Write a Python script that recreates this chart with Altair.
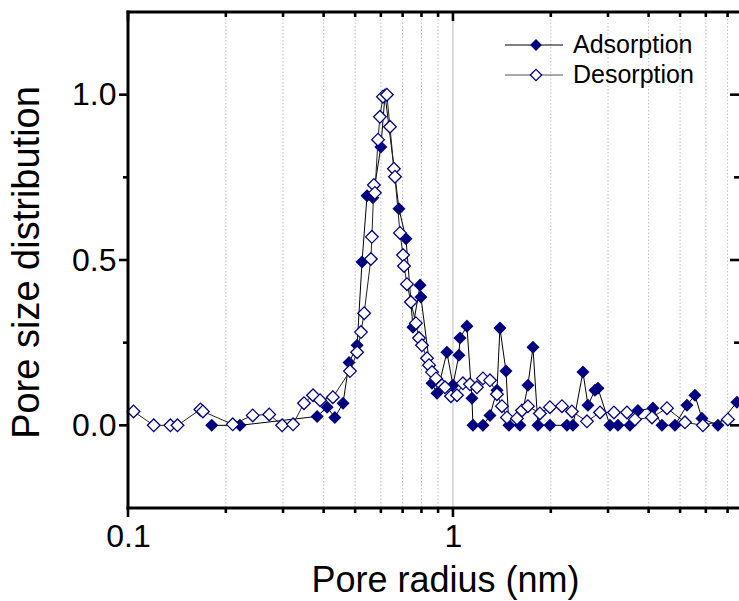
import altair as alt
import pandas as pd

# ---- data ----
ads_x = [0.181, 0.221, 0.382, 0.410, 0.433, 0.459, 0.479, 0.507, 0.525, 0.544, 0.567,
         0.600, 0.618, 0.682, 0.717, 0.753, 0.792, 0.797, 0.862, 0.893, 0.958, 1.000,
         1.043, 1.051, 1.104, 1.144, 1.152, 1.237, 1.300, 1.366, 1.395, 1.456, 1.487,
         1.608, 1.701, 1.763, 1.826, 1.988, 2.243, 2.340, 2.512, 2.603, 2.735, 2.794,
         3.042, 3.219, 3.505, 3.709, 4.125, 4.397, 4.822, 5.248, 5.554, 5.837, 6.538, 7.479]
ads_y = [0.0, 0.0, 0.027, 0.055, 0.024, 0.067, 0.19, 0.242, 0.494, 0.694, 0.688,
         0.842, 1.0, 0.655, 0.564, 0.297, 0.424, 0.388, 0.127, 0.097, 0.221, 0.121,
         0.212, 0.264, 0.30, 0.082, 0.0, 0.0, 0.03, 0.106, 0.294, 0.164, 0.0,
         0.0, 0.121, 0.236, 0.0, 0.0, 0.0, 0.0, 0.161, 0.061, 0.106, 0.112,
         0.0, 0.0, 0.0, 0.045, 0.052, 0.0, 0.0, 0.061, 0.091, 0.021, 0.0, 0.07]

des_x = [0.104, 0.120, 0.135, 0.142, 0.167, 0.170, 0.210, 0.242, 0.272, 0.298, 0.322,
         0.348, 0.371, 0.390, 0.427, 0.482, 0.507, 0.521, 0.533, 0.559, 0.563, 0.571,
         0.575, 0.588, 0.596, 0.609, 0.626, 0.640, 0.658, 0.663, 0.687, 0.702, 0.707,
         0.722, 0.742, 0.769, 0.786, 0.803, 0.832, 0.844, 0.862, 0.887, 0.925, 0.945,
         0.986, 1.029, 1.073, 1.128, 1.185, 1.237, 1.300, 1.366, 1.415, 1.466, 1.574,
         1.631, 1.701, 1.852, 1.988, 2.165, 2.323, 2.584, 2.835, 3.129, 3.431, 3.631,
         4.097, 4.556, 5.174, 5.876, 7.017]
des_y = [0.042, 0.0, 0.0, 0.0, 0.048, 0.042, 0.003, 0.03, 0.033, 0.0, 0.003,
         0.067, 0.091, 0.076, 0.085, 0.164, 0.221, 0.282, 0.339, 0.503, 0.570, 0.727,
         0.703, 0.864, 0.933, 0.994, 1.0, 0.903, 0.776, 0.752, 0.582, 0.515, 0.482,
         0.427, 0.373, 0.309, 0.264, 0.242, 0.203, 0.182, 0.161, 0.142, 0.121, 0.115,
         0.088, 0.091, 0.127, 0.124, 0.115, 0.142, 0.136, 0.094, 0.058, 0.024, 0.021,
         0.045, 0.058, 0.036, 0.055, 0.058, 0.042, 0.012, 0.039, 0.039, 0.039, 0.018,
         0.024, 0.052, 0.009, 0.0, 0.018]

x_major = [0.1, 1]
x_minor = [0.2, 0.3, 0.4, 0.5, 0.6, 0.7, 0.8, 0.9, 2, 3, 4, 5, 6, 7]
y_major = [0.0, 0.5, 1.0]
y_minor = [0.25, 0.75]
legend_labels = ["Adsorption", "Desorption"]

ads = pd.DataFrame({"r": ads_x, "v": ads_y})
des = pd.DataFrame({"r": des_x, "v": des_y})
xmaj = pd.DataFrame({"r": x_major})
xmin = pd.DataFrame({"r": x_minor})
ymaj = pd.DataFrame({"v": y_major})
ymin = pd.DataFrame({"v": y_minor})
one = pd.DataFrame({"r": [1]})

FONT = "Liberation Sans"
NAVY = "#000080"
W, H = 611, 496
TW = 2.6  # tick width

xs = alt.Scale(type="log", domain=[0.1, 7.59], nice=False)
ys = alt.Scale(domain=[-0.25, 1.25], nice=False, zero=False)

x_axis = alt.Axis(orient="bottom", values=x_major, ticks=False, domain=False, grid=False,
                  labelFont=FONT, labelFontSize=32, labelColor="black", labelPadding=13,
                  format="~g", labelFlush=False,
                  title="Pore radius (nm)", titleFont=FONT, titleFontSize=36,
                  titleColor="black", titleFontWeight="normal", titleBaseline="alphabetic",
                  titleX=317, titleY=83, titleAnchor="middle")
y_axis = alt.Axis(orient="left", values=y_major, ticks=False, domain=False, grid=False,
                  labelFont=FONT, labelFontSize=32, labelColor="black", labelPadding=12,
                  format=".1f",
                  title="Pore size distribution", titleFont=FONT, titleFontSize=38,
                  titleColor="black", titleFontWeight="normal", titleBaseline="alphabetic",
                  titleAngle=270, titleX=-90, titleY=250, titleAlign="center")

# every layer shares the same axis definition so they merge into one axis each
X = lambda: alt.X("r:Q", scale=xs, axis=x_axis)
Y = lambda: alt.Y("v:Q", scale=ys, axis=y_axis)

# grid lines
grid_dotted = alt.Chart(xmin).mark_rule(color="#c0c0c0", strokeWidth=1,
                                        strokeDash=[1.5, 2]).encode(x=X())
grid_solid = alt.Chart(one).mark_rule(color="#c8c8c8", strokeWidth=1.2).encode(x=X())

# tick marks (bottom outward, top inward, left outward, right inward)
ticks = []
for df, ln in ((xmaj, 9), (xmin, 5)):
    ticks.append(alt.Chart(df).mark_rule(color="black", strokeWidth=TW).encode(
        x=X(), y=alt.value(H), y2=alt.value(H + ln)))
    ticks.append(alt.Chart(df).mark_rule(color="black", strokeWidth=TW).encode(
        x=X(), y=alt.value(0), y2=alt.value(ln)))
for df, ln in ((ymaj, 9), (ymin, 5)):
    ticks.append(alt.Chart(df).mark_rule(color="black", strokeWidth=TW).encode(
        y=Y(), x=alt.value(-ln), x2=alt.value(0)))
    ticks.append(alt.Chart(df).mark_rule(color="black", strokeWidth=TW).encode(
        y=Y(), x=alt.value(W - ln), x2=alt.value(W)))

# frame
frame = [
    alt.Chart(one).mark_rule(color="black", strokeWidth=3, strokeCap="square").encode(
        x=alt.value(0), y=alt.value(0), y2=alt.value(H)),
    alt.Chart(one).mark_rule(color="black", strokeWidth=3, strokeCap="square").encode(
        x=alt.value(0), x2=alt.value(W + 2), y=alt.value(H)),
    alt.Chart(one).mark_rule(color="black", strokeWidth=3, strokeCap="square").encode(
        x=alt.value(0), x2=alt.value(W + 2), y=alt.value(0)),
]

ads_line = alt.Chart(ads).mark_line(color="black", strokeWidth=1).encode(x=X(), y=Y())
ads_pts = alt.Chart(ads).mark_point(shape="diamond", filled=True, size=170, color=NAVY,
                                    opacity=1).encode(x=X(), y=Y())
des_line = alt.Chart(des).mark_line(color="#222222", strokeWidth=1).encode(x=X(), y=Y())
des_pts = alt.Chart(des).mark_point(shape="diamond", filled=True, fill="white", stroke=NAVY,
                                    strokeWidth=1.3, size=160, opacity=1).encode(x=X(), y=Y())

legend_layers = []
for i, lab in enumerate(legend_labels):
    yy = 33 + 30 * i
    src = pd.DataFrame({"t": [lab]})
    legend_layers.append(alt.Chart(src).mark_rule(
        color="black" if i == 0 else "#555555", strokeWidth=1).encode(
        x=alt.value(377), x2=alt.value(435), y=alt.value(yy)))
    if i == 0:
        legend_layers.append(alt.Chart(src).mark_point(
            shape="diamond", filled=True, size=140, color=NAVY, opacity=1).encode(
            x=alt.value(408), y=alt.value(yy)))
    else:
        legend_layers.append(alt.Chart(src).mark_point(
            shape="diamond", filled=True, fill="white", stroke=NAVY, strokeWidth=1.3,
            size=130, opacity=1).encode(x=alt.value(408), y=alt.value(yy)))
    legend_layers.append(alt.Chart(src).mark_text(
        align="left", baseline="middle", font=FONT, fontSize=25, color="black").encode(
        x=alt.value(445), y=alt.value(yy), text="t:N"))

chart = alt.layer(grid_dotted, grid_solid, ads_line, ads_pts, des_line, des_pts,
                  *ticks, *frame, *legend_layers).properties(
    width=W, height=H,
    autosize=alt.AutoSizeParams(type="none"),
    padding={"left": 128, "top": 12, "right": 0, "bottom": 93},
).configure_view(strokeWidth=0).configure(background="white")

chart.save("out.html", embed_options={"renderer": "svg", "actions": False})
